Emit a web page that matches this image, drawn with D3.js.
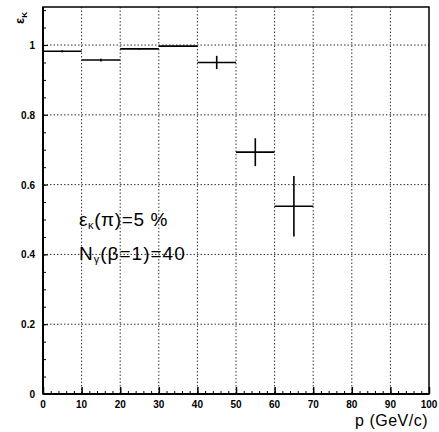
<!DOCTYPE html>
<html>
<head>
<meta charset="utf-8">
<script src="https://cdn.jsdelivr.net/npm/d3@7"></script>
<style>
body { margin: 0; background: #fff; }
svg text { font-family: "Liberation Sans", Arial, sans-serif; fill: #000; }
</style>
</head>
<body>
<svg id="chart" width="439" height="432"></svg>
<script>
// bins in p (GeV/c) and the kaon efficiency with its error
var bin_low = [0, 10, 20, 30, 40, 50, 60];
var bin_high = [10, 20, 30, 40, 50, 60, 70];
var eff = [0.982, 0.957, 0.989, 0.997, 0.950, 0.693, 0.538];
var eff_err = [0.003, 0.004, 0.002, 0.001, 0.019, 0.040, 0.087];
var x_ticks = [0, 10, 20, 30, 40, 50, 60, 70, 80, 90, 100];
var y_ticks = [0, 0.2, 0.4, 0.6, 0.8, 1];
var y_tick_labels = ["0", "0.2", "0.4", "0.6", "0.8", "1"];

window.onload = function()
{
    var svg = d3.select("#chart");
    var left = 43, right = 429, top = 7, bottom = 394;
    var x = d3.scaleLinear().domain([0, 100]).range([left, right]);
    var y = d3.scaleLinear().domain([0, 1.109]).range([bottom, top]);

    // dotted grid
    var grid = svg.append("g").attr("stroke", "#333").attr("stroke-width", 1).attr("stroke-dasharray", "1.5,2");
    grid.selectAll("line.gx").data(x_ticks.slice(1, -1)).enter().append("line").
        attr("x1", function(d) { return x(d); }).attr("x2", function(d) { return x(d); }).
        attr("y1", top).attr("y2", bottom);
    grid.selectAll("line.gy").data(y_ticks.slice(1)).enter().append("line").
        attr("y1", function(d) { return y(d); }).attr("y2", function(d) { return y(d); }).
        attr("x1", left).attr("x2", right);

    // frame
    svg.append("rect").attr("x", left).attr("y", top).attr("width", right - left).attr("height", bottom - top).
        attr("fill", "none").attr("stroke", "#000").attr("stroke-width", 1.5);

    // bottom axis with inward ticks
    var x_axis = d3.axisTop(x).tickValues(x_ticks).tickSize(7).tickFormat("");
    var x_minor = d3.axisTop(x).tickValues(d3.range(0, 101, 2)).tickSize(3).tickFormat("");
    svg.append("g").attr("transform", "translate(0," + bottom + ")").call(x_minor).call(function(g) { g.select(".domain").remove(); });
    svg.append("g").attr("transform", "translate(0," + bottom + ")").call(x_axis).
        call(function(g) { g.select(".domain").attr("stroke-width", 2).attr("d", "M" + left + ",0H" + right); g.selectAll(".tick line").attr("stroke-width", 1.5); });

    // left axis with inward ticks
    var y_minor = d3.axisRight(y).tickValues(d3.range(0, 1.101, 0.05)).tickSize(3).tickFormat("");
    var y_axis = d3.axisRight(y).tickValues(y_ticks).tickSize(5).tickFormat("");
    svg.append("g").attr("transform", "translate(" + left + ",0)").call(y_minor).call(function(g) { g.select(".domain").remove(); });
    svg.append("g").attr("transform", "translate(" + left + ",0)").call(y_axis).
        call(function(g) { g.select(".domain").attr("stroke-width", 2).attr("d", "M0," + top + "V" + bottom); });

    // tick labels
    svg.selectAll("text.xl").data(x_ticks).enter().append("text").
        attr("x", function(d) { return x(d); }).attr("y", 408).
        attr("text-anchor", "middle").attr("font-size", 10).attr("font-weight", "bold").
        text(function(d) { return d; });
    svg.selectAll("text.yl").data(y_ticks).enter().append("text").
        attr("x", 35).attr("y", function(d) { return y(d) + 4; }).
        attr("text-anchor", "end").attr("font-size", 10).attr("font-weight", "bold").
        text(function(d, i) { return y_tick_labels[i]; });

    // axis titles
    svg.append("text").attr("x", 428).attr("y", 426).attr("text-anchor", "end").attr("font-size", 16).
        attr("letter-spacing", 0.5).text("p  (GeV/c)");
    var yt = svg.append("text").attr("transform", "translate(24,24) rotate(-90)").attr("font-size", 13).attr("font-weight", "bold");
    yt.append("tspan").text("ε");
    yt.append("tspan").attr("font-size", 8).attr("dy", 3).text("K");

    // data: horizontal bin bars and vertical error bars
    var marks = svg.append("g").attr("stroke", "#000").attr("stroke-width", 1.6);
    marks.selectAll("line.h").data(eff).enter().append("line").
        attr("x1", function(d, i) { return x(bin_low[i]); }).attr("x2", function(d, i) { return x(bin_high[i]); }).
        attr("y1", function(d) { return y(d); }).attr("y2", function(d) { return y(d); });
    marks.selectAll("line.v").data(eff).enter().append("line").
        attr("x1", function(d, i) { return x((bin_low[i] + bin_high[i]) / 2); }).
        attr("x2", function(d, i) { return x((bin_low[i] + bin_high[i]) / 2); }).
        attr("y1", function(d, i) { return y(d - eff_err[i]); }).attr("y2", function(d, i) { return y(d + eff_err[i]); });

    // annotations
    var a1 = svg.append("text").attr("x", 79).attr("y", 226).attr("font-size", 19).attr("letter-spacing", 0.6);
    a1.append("tspan").text("ε");
    a1.append("tspan").attr("font-size", 11).attr("dy", 3).text("κ");
    a1.append("tspan").attr("dy", -3).text("(π)=5 %");
    var a2 = svg.append("text").attr("x", 79).attr("y", 260).attr("font-size", 19).attr("letter-spacing", 1);
    a2.append("tspan").text("N");
    a2.append("tspan").attr("font-size", 11).attr("dy", 3).text("γ");
    a2.append("tspan").attr("dy", -3).text("(β=1)=40");
}
</script>
</body>
</html>
